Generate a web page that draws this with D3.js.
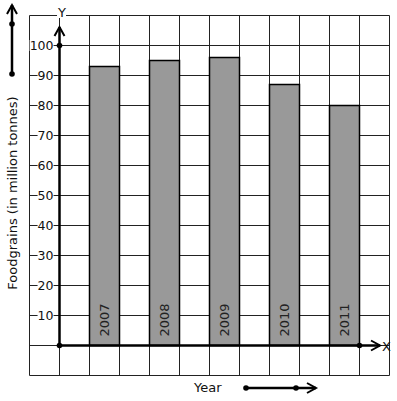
<!DOCTYPE html>
<html>
<head>
<meta charset="utf-8">
<script src="https://cdn.jsdelivr.net/npm/d3@7"></script>
<style>
  body { margin: 0; background: #fff; }
  text { font-family: "DejaVu Sans", sans-serif; }
</style>
</head>
<body>
<div id="chart"></div>
<script>
// data
const years = ["2007", "2008", "2009", "2010", "2011"];
const foodgrains = [93, 95, 96, 87, 80];
const yTicks = [10, 20, 30, 40, 50, 60, 70, 80, 90, 100];

const width = 397, height = 401;

const svg = d3.select("#chart").append("svg")
    .attr("width", width)
    .attr("height", height);

// graph paper: 12 x 12 cells of 30px
const col = d3.scaleLinear().domain([0, 12]).range([29.5, 389.5]);
const y = d3.scaleLinear().domain([-10, 110]).range([375.5, 15.5]);
const x = d3.scaleBand().domain(years)
    .range([col(2), col(12)])
    .paddingInner(0.5).paddingOuter(0.25).align(0);

const grid = svg.append("g").attr("stroke", "#222").attr("stroke-width", 1);
grid.selectAll("line.v").data(d3.range(0, 13)).enter().append("line")
    .attr("x1", d => col(d)).attr("x2", d => col(d))
    .attr("y1", y(110)).attr("y2", y(-10));
grid.selectAll("line.h").data(d3.range(-10, 111, 10)).enter().append("line")
    .attr("x1", col(0)).attr("x2", col(12))
    .attr("y1", d => y(d)).attr("y2", d => y(d));

// bars
svg.append("g").selectAll("rect").data(years).enter().append("rect")
    .attr("x", d => x(d))
    .attr("y", (d, i) => y(foodgrains[i]))
    .attr("width", x.bandwidth())
    .attr("height", (d, i) => y(0) - y(foodgrains[i]))
    .attr("fill", "#999")
    .attr("stroke", "#000")
    .attr("stroke-width", 1.5);

// year labels inside the bars, reading upwards
svg.append("g").selectAll("text").data(years).enter().append("text")
    .attr("transform", d => "translate(" + (x(d) + x.bandwidth() / 2 + 4.5) + "," + (y(0) - 9) + ") rotate(-90)")
    .attr("font-size", 13)
    .attr("fill", "#222")
    .text(d => d);

// helper: text with a white box behind it so grid lines are hidden
function labelWithBg(g, txt, px, py, anchor, size) {
    const t = g.append("text")
        .attr("x", px).attr("y", py)
        .attr("text-anchor", anchor)
        .attr("font-size", size)
        .attr("fill", "#111")
        .text(txt);
    const b = t.node().getBBox();
    g.insert("rect", function () { return t.node(); })
        .attr("x", b.x).attr("y", b.y + 2)
        .attr("width", b.width).attr("height", b.height - 4)
        .attr("fill", "#fff");
}

const ticks = svg.append("g");
yTicks.forEach(v => labelWithBg(ticks, v, col(1) - 6, y(v) + 4.5, "end", 12.5));

// axes
const axes = svg.append("g").attr("stroke", "#000").attr("stroke-width", 2.5).attr("fill", "none");
axes.append("line").attr("x1", col(1)).attr("x2", col(1)).attr("y1", y(0)).attr("y2", 27);
axes.append("line").attr("x1", col(1)).attr("x2", 380).attr("y1", y(0)).attr("y2", y(0));

function chevron(g, tx, ty, dir) {
    // dir: "up" or "right"
    const p = dir === "up"
        ? [[tx - 5, ty + 9], [tx, ty], [tx + 5, ty + 9]]
        : [[tx - 9, ty - 5], [tx, ty], [tx - 9, ty + 5]];
    g.append("path").attr("d", d3.line()(p)).attr("stroke-width", 2);
}
chevron(axes, col(1), 27, "up");
chevron(axes, 380, y(0), "right");

const dots = svg.append("g").attr("fill", "#000");
[[col(1), y(0)], [col(1), y(100)], [col(11), y(0)]].forEach(p =>
    dots.append("circle").attr("cx", p[0]).attr("cy", p[1]).attr("r", 2.8));

const axisLbl = svg.append("g");
labelWithBg(axisLbl, "Y", 62, 17, "middle", 13);
axisLbl.append("text").attr("x", 382).attr("y", y(0) + 5)
    .attr("font-size", 13).attr("fill", "#111").text("X");

// titles
svg.append("text")
    .attr("transform", "translate(17," + 193 + ") rotate(-90)")
    .attr("text-anchor", "middle")
    .attr("font-size", 13)
    .attr("fill", "#111")
    .text("Foodgrains (in million tonnes)");
svg.append("text")
    .attr("x", 194).attr("y", 392)
    .attr("font-size", 13)
    .attr("fill", "#111")
    .text("Year");

// direction arrows
const arrows = svg.append("g").attr("stroke", "#000").attr("stroke-width", 2.5).attr("fill", "none");
arrows.append("line").attr("x1", 12).attr("x2", 12).attr("y1", 5).attr("y2", 74);
chevron(arrows, 12, 5, "up");
arrows.append("line").attr("x1", 246).attr("x2", 316).attr("y1", 388).attr("y2", 388);
chevron(arrows, 316, 388, "right");
[[12, 24], [12, 74], [246, 388], [296, 388]].forEach(p =>
    dots.append("circle").attr("cx", p[0]).attr("cy", p[1]).attr("r", 2.8));
</script>
</body>
</html>
